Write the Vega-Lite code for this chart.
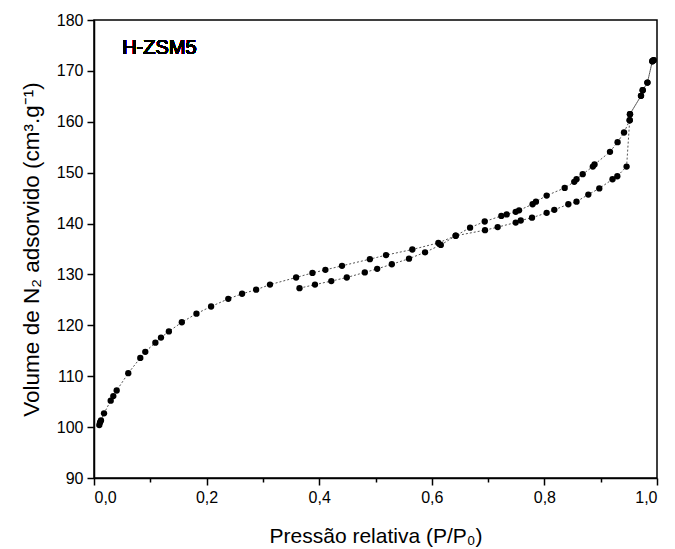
{
  "$schema": "https://vega.github.io/schema/vega-lite/v6.json",
  "width": 563,
  "height": 458,
  "autosize": {"type": "none"},
  "padding": {"left": 94, "top": 20, "right": 18, "bottom": 71},
  "background": "white",
  "config": {
    "font": "Liberation Sans",
    "view": {"stroke": "black", "strokeWidth": 1.5},
    "axis": {"grid": false, "domainColor": "black", "domainWidth": 1.5, "tickColor": "black", "tickWidth": 1.5, "labelColor": "black", "titleColor": "black", "labelFont": "Liberation Sans", "titleFont": "Liberation Sans", "labelFontSize": 16, "titleFontSize": 21, "titleFontWeight": "normal"}
  },
  "datasets": {
    "iso": [
      {"p": 0.0094, "v": 100.4, "branch": "ads"},
      {"p": 0.0107, "v": 100.9, "branch": "ads"},
      {"p": 0.0124, "v": 101.3, "branch": "ads"},
      {"p": 0.0178, "v": 102.7, "branch": "ads"},
      {"p": 0.0297, "v": 105.2, "branch": "ads"},
      {"p": 0.0343, "v": 106.1, "branch": "ads"},
      {"p": 0.0403, "v": 107.2, "branch": "ads"},
      {"p": 0.0609, "v": 110.6, "branch": "ads"},
      {"p": 0.0822, "v": 113.6, "branch": "ads"},
      {"p": 0.0911, "v": 114.8, "branch": "ads"},
      {"p": 0.109, "v": 116.6, "branch": "ads"},
      {"p": 0.119, "v": 117.6, "branch": "ads"},
      {"p": 0.133, "v": 118.8, "branch": "ads"},
      {"p": 0.156, "v": 120.6, "branch": "ads"},
      {"p": 0.182, "v": 122.3, "branch": "ads"},
      {"p": 0.208, "v": 123.7, "branch": "ads"},
      {"p": 0.2385, "v": 125.2, "branch": "ads"},
      {"p": 0.263, "v": 126.2, "branch": "ads"},
      {"p": 0.288, "v": 127.0, "branch": "ads"},
      {"p": 0.3126, "v": 128.0, "branch": "ads"},
      {"p": 0.359, "v": 129.4, "branch": "ads"},
      {"p": 0.388, "v": 130.3, "branch": "ads"},
      {"p": 0.411, "v": 130.9, "branch": "ads"},
      {"p": 0.4405, "v": 131.7, "branch": "ads"},
      {"p": 0.49, "v": 133.0, "branch": "ads"},
      {"p": 0.5187, "v": 133.8, "branch": "ads"},
      {"p": 0.5654, "v": 134.9, "branch": "ads"},
      {"p": 0.6116, "v": 136.2, "branch": "ads"},
      {"p": 0.6424, "v": 137.6, "branch": "ads"},
      {"p": 0.668, "v": 139.2, "branch": "ads"},
      {"p": 0.694, "v": 140.4, "branch": "ads"},
      {"p": 0.7235, "v": 141.5, "branch": "ads"},
      {"p": 0.733, "v": 141.8, "branch": "ads"},
      {"p": 0.749, "v": 142.3, "branch": "ads"},
      {"p": 0.755, "v": 142.6, "branch": "ads"},
      {"p": 0.779, "v": 143.8, "branch": "ads"},
      {"p": 0.785, "v": 144.3, "branch": "ads"},
      {"p": 0.804, "v": 145.5, "branch": "ads"},
      {"p": 0.836, "v": 147.0, "branch": "ads"},
      {"p": 0.853, "v": 148.2, "branch": "ads"},
      {"p": 0.857, "v": 148.7, "branch": "ads"},
      {"p": 0.868, "v": 149.7, "branch": "ads"},
      {"p": 0.886, "v": 151.2, "branch": "ads"},
      {"p": 0.889, "v": 151.6, "branch": "ads"},
      {"p": 0.9165, "v": 154.1, "branch": "ads"},
      {"p": 0.93, "v": 156.0, "branch": "ads"},
      {"p": 0.9414, "v": 157.9, "branch": "ads"},
      {"p": 0.9515, "v": 160.3, "branch": "ads"},
      {"p": 0.952, "v": 161.5, "branch": "ads"},
      {"p": 0.9716, "v": 165.1, "branch": "ads"},
      {"p": 0.9746, "v": 166.2, "branch": "ads"},
      {"p": 0.983, "v": 167.7, "branch": "ads"},
      {"p": 0.9917, "v": 171.9, "branch": "ads"},
      {"p": 0.994, "v": 172.1, "branch": "ads"},
      {"p": 0.994, "v": 172.1, "branch": "des"},
      {"p": 0.9917, "v": 171.9, "branch": "des"},
      {"p": 0.983, "v": 167.7, "branch": "des"},
      {"p": 0.9746, "v": 166.2, "branch": "des"},
      {"p": 0.9716, "v": 165.1, "branch": "des"},
      {"p": 0.952, "v": 161.5, "branch": "des"},
      {"p": 0.9515, "v": 160.3, "branch": "des"},
      {"p": 0.946, "v": 151.2, "branch": "des"},
      {"p": 0.9295, "v": 149.3, "branch": "des"},
      {"p": 0.921, "v": 148.7, "branch": "des"},
      {"p": 0.8975, "v": 146.9, "branch": "des"},
      {"p": 0.878, "v": 145.7, "branch": "des"},
      {"p": 0.857, "v": 144.3, "branch": "des"},
      {"p": 0.8425, "v": 143.8, "branch": "des"},
      {"p": 0.8176, "v": 142.7, "branch": "des"},
      {"p": 0.804, "v": 142.1, "branch": "des"},
      {"p": 0.778, "v": 141.15, "branch": "des"},
      {"p": 0.758, "v": 140.6, "branch": "des"},
      {"p": 0.749, "v": 140.2, "branch": "des"},
      {"p": 0.717, "v": 139.3, "branch": "des"},
      {"p": 0.6945, "v": 138.7, "branch": "des"},
      {"p": 0.6424, "v": 137.6, "branch": "des"},
      {"p": 0.616, "v": 135.8, "branch": "des"},
      {"p": 0.588, "v": 134.35, "branch": "des"},
      {"p": 0.5595, "v": 133.1, "branch": "des"},
      {"p": 0.529, "v": 132.0, "branch": "des"},
      {"p": 0.503, "v": 131.1, "branch": "des"},
      {"p": 0.481, "v": 130.4, "branch": "des"},
      {"p": 0.449, "v": 129.4, "branch": "des"},
      {"p": 0.4215, "v": 128.7, "branch": "des"},
      {"p": 0.3925, "v": 128.0, "branch": "des"},
      {"p": 0.365, "v": 127.3, "branch": "des"}
    ]
  },
  "data": {"name": "iso"},
  "layer": [
    {
      "mark": {"type": "line", "color": "#555555", "strokeWidth": 1, "strokeDash": [2, 2]},
      "encoding": {
        "x": {"field": "p", "type": "quantitative", "scale": {"domain": [0, 1], "nice": false},
          "axis": {"values": [0, 0.1, 0.2, 0.3, 0.4, 0.5, 0.6, 0.7, 0.8, 0.9, 1.0], "tickSize": {"expr": "round(datum.value * 10) % 2 === 0 ? 7 : 4"}, "labelPadding": 4, "labelExpr": "round(datum.value * 10) % 2 === 0 ? replace(format(datum.value, '.1f'), '.', ',') : ''", "title": "Pressão relativa (P/P₀)", "titlePadding": 20}},
        "y": {"field": "v", "type": "quantitative", "scale": {"domain": [90, 180], "nice": false, "zero": false},
          "axis": {"values": [90, 95, 100, 105, 110, 115, 120, 125, 130, 135, 140, 145, 150, 155, 160, 165, 170, 175, 180], "tickSize": {"expr": "datum.value % 10 === 0 ? 7 : 4"}, "labelPadding": 4, "labelExpr": "datum.value % 10 === 0 ? datum.label : ''", "title": "Volume de N₂ adsorvido (cm³.g⁻¹)", "titleFontSize": 22.5, "titlePadding": 13}},
        "detail": {"field": "branch"},
        "order": {"field": "p"}
      }
    },
    {
      "mark": {"type": "circle", "color": "black", "opacity": 1, "size": 40},
      "encoding": {
        "x": {"field": "p", "type": "quantitative"},
        "y": {"field": "v", "type": "quantitative"}
      }
    },
    {
      "mark": {"type": "text", "text": "H-ZSM5", "fontSize": 20, "align": "left", "baseline": "middle", "color": "black", "font": "Liberation Sans"},
      "encoding": {
        "x": {"datum": 0.05, "type": "quantitative"},
        "y": {"datum": 174.5, "type": "quantitative"}
      }
    }
  ]
}
